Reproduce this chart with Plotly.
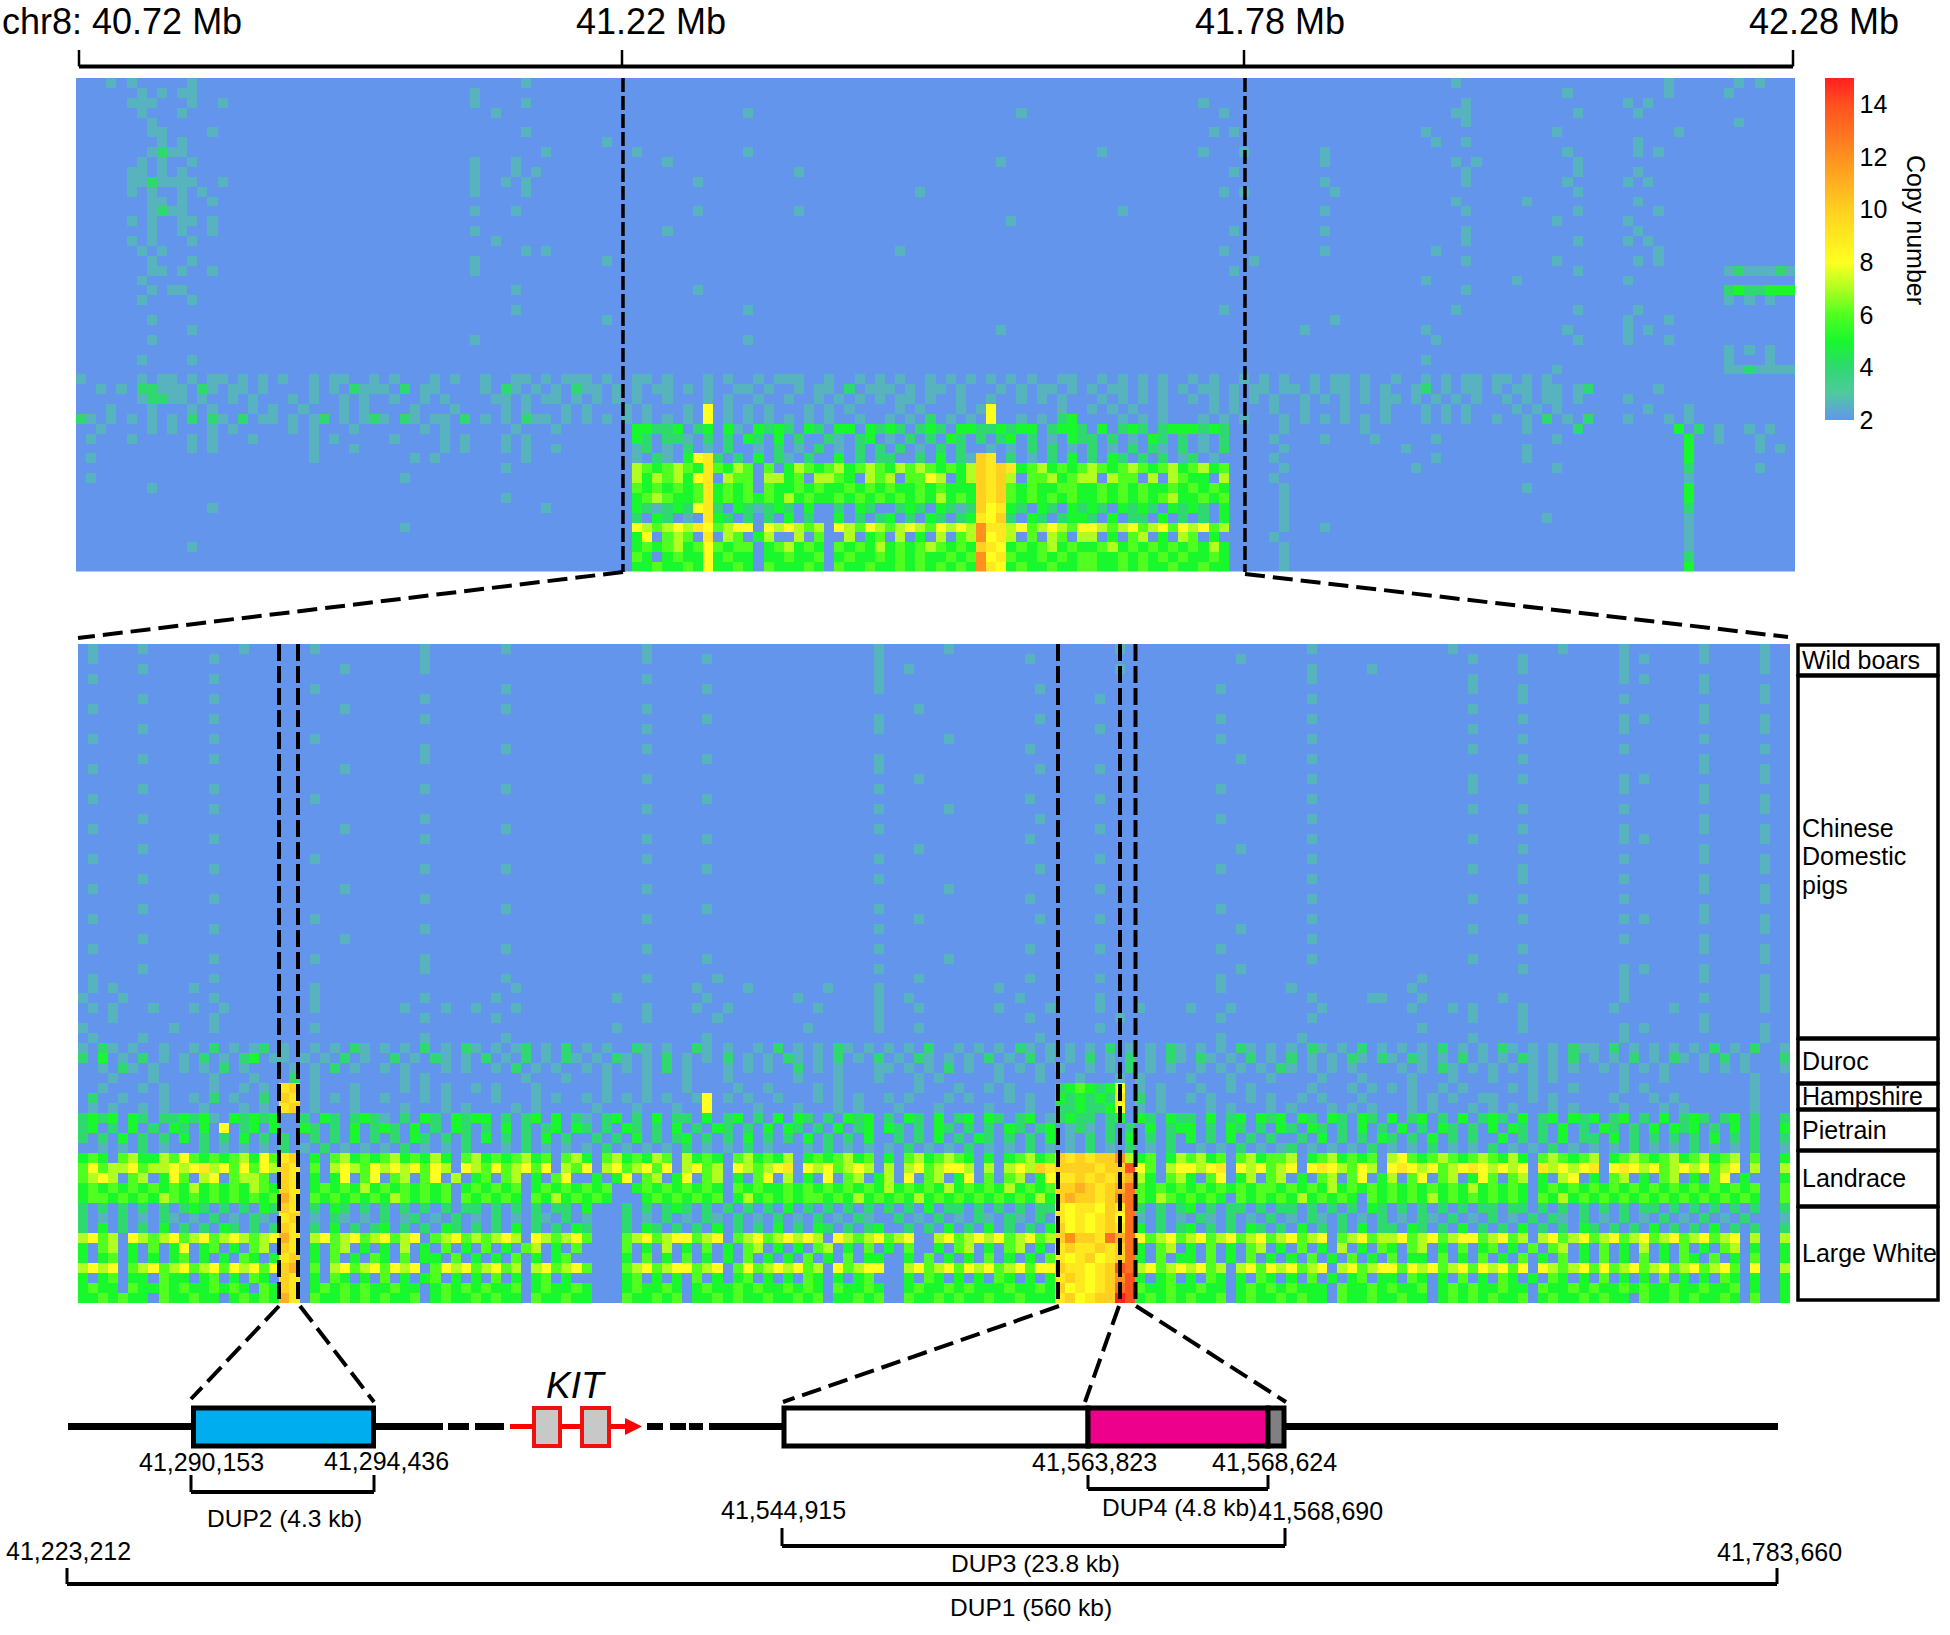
"""
Copy number heatmaps of the KIT region on chr8, with the duplication schematic below.
"""

import plotly.graph_objects as go

W, H = 1950, 1635

# values, one character per cell, space-separated groups of 10 cells
# "." = copy number 2, "3" = faint speckle, "_" = ten cells of 2, a-f = 10-15
TOP_ROWS = [
    "...3.3.... .3........ _ _ ....3..... _ _ _ _ _ _ _ _ ......3... _ .......3.. ....3.3...",
    "......3.3. 33........ _ .........3 _ _ _ _ _ _ _ _ _ _ .......3.. .......3.. ...3......",
    ".....333.. .3..3..... _ .........3 ....3..... _ _ _ _ _ _ .3........ _ .......3.. _ ...3.3....",
    "......3... 3......... _ _ .3........ _ ......3... _ _ ...3...... _ ...3...... _ ......33.. ........3. ....3.....",
    ".......3.. .......... _ _ _ _ _ _ _ _ _ _ _ .......3.. .......... _ ....3.....",
    ".......33. ...3...... _ _ ....3..... _ _ _ _ _ _ ..3.3..... _ ...3...... ......3... ........3. _",
    "........3. 3......... _ _ _ ..3....... _ _ _ _ _ _ _ ....3..3.. _ ....3.....",
    ".......343 3......... _ _ ......3... .....3.... ......3... _ _ _ .3........ .3...3.... ...3...... _ .......3.. ....3.3...",
    "......3.3. .3........ _ .........3 ...3...... ........3. _ _ _ .3........ _ _ ...3...... ......3.3. ........3. _",
    ".....33.3. 3......... _ .........3 ...3.3.... _ _ .3........ _ _ _ ....3..... _ .......3.. ........3. ....3.....",
    ".....33433 33..3..... _ .........3 ..3.3..... _ .3........ _ _ _ _ _ ...3...... .......3.. .......3.. ...3.3....",
    ".....3.3.. 3.3....... _ .........3 ....3..... _ _ _ ...3...... _ _ ...3.3.... ....3..... _ ........3. _",
    ".......33. 3..3...... _ _ _ _ _ _ _ _ _ _ _ ......3... ...3...... ....3.....",
    ".......343 3......... _ .........3 ...3...... _ .3........ .3........ _ _ ...3...... _ ...3...... .......3.. ........3. ......3...",
    ".....3.3.. 33.3...... _ _ _ _ _ _ _ ..3....... _ _ _ _ ......3... ...3......",
    ".......3.. 3..3...... _ .........3 _ ........3. _ _ _ _ _ ....3..... ...3...... .......3.. _ ....3.....",
    ".....3.3.. .3........ _ _ .3........ _ _ _ _ _ _ _ _ .......3.. ........3. ...3.3....",
    "......3.3. _ _ _ ....3.3... _ _ _ .3........ _ _ ...3...... ...3...... ....3..... _ ......3...",
    ".......3.. .3........ _ .........3 _ ..3....... _ _ _ _ _ ......3... _ .......3.. ......3... ....3.3...",
    ".......33. 3..3...... _ .........3 _ _ _ _ _ _ _ ....3..... _ _ ........3. _ ...3433343",
    "......3... .......... _ _ _ _ _ _ _ _ _ _ _ ...3...... ..3....... ...3...... _ ...3...3..",
    ".......3.3 3......... _ _ ...3...... _ .3........ _ _ _ _ _ _ .......3.. _ _ ...4544555",
    "......3... .3........ _ _ _ _ _ _ _ _ _ _ _ _ _ _ ...3.3.3..",
    "_ _ _ _ ...3...... _ ......3... _ _ _ _ ...3...... _ ......3... ........3. ....3.....",
    ".......3.. _ _ _ _ ..3....... _ _ _ _ _ _ ....3..... _ _ ...3...3..",
    "_ .3........ _ _ _ _ _ _ _ .3........ _ _ .3........ ...3...... .......3.. ...3.3....",
    ".......3.. _ _ .........3 _ _ ......3... _ _ _ _ _ _ ....3..... ........3. ...3...3..",
    "_ _ _ _ _ _ _ _ _ _ _ _ _ _ _ _ ...3.3.3..",
    "......3... .3........ _ _ _ _ _ _ _ _ _ _ _ ...3...... _ _ ...3...3..",
    "_ _ _ _ _ _ _ _ _ _ _ _ _ _ ......3... _ ...3343333",
    "3.....3.33 .3.33.3.3. 3..3.33..3 .3...3.3.. 3..33.3.33 3.3..33.3. ..3.3..3.3 33..3..3.3 .3..3.3.3. 3.3.3..33. .3.3.3.3.. 3.3..3.3.3 ..3.33.3.. 3..3.3.33. 33.3.3.... _",
    "..3.3.4433 3.43.33.3. ...3.3.433 3.4.33.... 3.43.3.3.4 33.3.3.33. 3.3..33.3. .3.33.4.33 3.3.33.3.. .3.3.33.3. 3.33.3.3.3 .33.3.33.3 3.3.33.3.3 ..34.3.33. 3.33.33.34 ......3...",
    "......3443 3.3..3.3.. .3.3..3.3. .3..3.3... .33.3.33.3 .3.3.3..3. ..3.3..3.. 3..3.3.3.3 .33.3..3.. 3..3.3.3.. .3.3.3.3.. 3.3.3.3.3. .3.3.3.3.3 3.3.3.3.3. .3.3.33.3. ...3......",
    "...3...3.. .3.3...3.3 ..3...3.3. ...3...3.. ..3.3...3. 3...3.3... 3.8.3.3.3. ..3.3.3... .3.3...3.3 8......3.. 3.3.3..3.. ..3.3...3. .3...3...3 ...3.3.3.. ..3.3.3... .....3...3",
    "43.3.3.3.3 .4.43.4.33 .3.34.3.34 3.43.33.4. 3.3.433.3. 3.3.3.3.3. 3.8.3.3.3. 3.3.3..3.. 3.3.4.3.3. 8..3.3.45. ...3.3.3.. .3.3.3...3 .3.3.3.3.3 ...3.3.3.. 3..3.4.3.4 ...3...3.3",
    "..3....3.3 ...3.3.... .3.3...3.. ....3.3... ...3...3.. .....55445 .45.53.545 4.54.55.54 54.454.554 45455.4554 .5.454.455 5454.....3 .......3.. _ ...3....4. ........5. 4.3..3.3..",
    ".3...3.... .3.3...3.. ...3.3.... .3....3.3. ..3.3..... .....54.44 3.4.4.54.5 .4..43.45. 3.4.4.54.4 .45.4.3.54 4.4.3.54.4 .3.4....3. ...3....3. ....3..... ......3... .........5 ..3...3...",
    "_ .3.3...... ...3...3.. ......3.3. ..3.3..3.. .....34.3. 4.3.4..3.4 .3.4.3.4.4 .4.3.4.4.. 3.3.4.4.3. 4.3.4.43.4 .3.4.....3 _ .3........ ...3...... .........5 ......3.3.",
    ".3........ _ ...3...... ...3.3.... ....3..... .....3.43. 5894.4.5.4 3.4..5.4.4 4..4.5.43a 9.4.3.4.5. 4.54.4.4.3 4.3.....3. _ ....3..... ...3...... .........5 _",
    "_ _ _ _ ..3....... .....76567 6596576.6. 5765675676 576765657a 9a95675656 7656765675 6756.....3 _ ..3....... ......3... .........4 ......3...",
    ".3........ _ _ ..3....... _ .....75767 589.766.77 56.7765.76 7.6687.57a 9a7.667567 7.766.7.76 55.7....3. _ _ _ .........3 _",
    ".......3.. _ _ _ _ .....65656 5695656.65 5656556565 655656555a 9a65655665 5656565565 6565.....3 _ _ ...3...... .........5 _",
    "_ _ _ _ ..3....... .....56765 5695656565 7565565656 565657565a 9a65656565 5656565675 5656.....3 _ _ _ .........5 _",
    "_ ...3...... _ _ ......3... .....54345 4894.54345 4.5..4.54. .454.5434a 8954.54.54 54.5454.54 54.5.....3 _ _ _ .........4 _",
    "_ _ _ _ _ .....4.54. 3.954.4.4. 5.4..5.4.4 5.4.54.459 8a4.54.455 4.5.44.5.4 .4.5.....3 _ _ .....3.... .........3 _",
    "_ _ _ ..3....... _ .....87678 7986788.87 8767.87687 678768787c 9978678768 8767867868 7867.....3 ...3...... _ _ .........3 _",
    "_ _ _ _ _ .....58.67 6.9.76.57. .7.6..7.56 .7.5.7.67c 897.6.76.7 7.5.67.5.7 6.5.....3. _ _ _ .........3 _",
    "_ .3........ _ _ _ .....56567 5686566.56 7565.65657 565676565a 9856567565 5675656565 6575.....3 _ _ _ .........3 _",
    "_ _ _ _ _ .....65.56 5585655.55 6556.56556 565655656c 8965565656 6556565656 5565.....3 _ _ _ .........4 _",
    "_ _ _ _ _ .....55655 6585565.65 5565.65565 565656565c 9856556556 6556565565 5655.....3 _ _ _ .........5 _",
]

LOWER_ROWS = [
    ".3....3... ......3... ...3...... ....3..... ..3....... ......3... _ .........3 ......3... _ ...3...... _ ..3....... ......3... .......3.. ...3...... .3.....3..",
    ".3........ ...3...... _ ....3..... _ ......3... ..3....... .........3 _ ....3..... _ .....3.... _ ........3. ...3...... ...3.3.... .3.....3..",
    "......3... _ ......3... ....3..... _ _ _ .........3 ..3....... _ ...3...... _ ..3.....3. _ ...3...... ...3...... .......3..",
    ".3........ ...3...... _ _ _ ......3... _ .........3 _ _ _ _ ..3....... ........3. _ ...3.3.... .3........",
    "_ _ ...3...... _ ..3....... _ ..3....... .........3 _ .....3.... _ ...3...... _ ........3. ...3...... _ .3.....3..",
    "......3... ...3...... _ ....3..... _ _ _ _ _ _ .3........ _ ..3....... _ ...3...... ...3...... .......3..",
    ".3........ _ ......3... _ ..3....... ......3... _ _ ...3...... _ _ _ _ ........3. _ _ .3........",
    "_ ...3...... _ ....3..... _ _ ..3....... .........3 _ .....3.... _ ...3...... ..3....... _ ...3...... ...3.3.... .3.....3..",
    "......3... _ _ _ _ ......3... _ .........3 _ _ .3........ _ _ ........3. _ ...3...... .......3..",
    ".3........ ...3...... ...3...... _ _ _ _ _ ......3... _ _ ...3...... ..3....... _ ...3...... _ .3........",
    "_ _ _ ....3..... ..3....... ......3... _ _ _ ....3..... _ _ _ ........3. _ ...3...... .......3..",
    "......3... ...3...... _ ....3..... _ _ ..3....... .........3 _ _ _ .....3.... ..3....... _ ...3...... _ .3........",
    ".3........ _ ......3... _ _ _ _ .........3 _ .....3.... .3........ _ _ _ _ _ .3.....3..",
    "_ _ _ _ _ ......3... _ _ ...3...... _ _ _ ..3....... ........3. ...3...... ...3.3.... .......3..",
    "......3... ...3...... _ ....3..... ..3....... _ _ .........3 _ _ _ ...3...... _ ........3. _ ...3...... .3........",
    ".3........ _ ...3...... _ _ _ ..3....... _ _ ....3..... .3........ _ ..3....... _ _ _ .3.....3..",
    "_ ...3...... _ _ _ ......3... _ .........3 ......3... _ _ _ _ ........3. ...3...... ...3...... .......3..",
    "......3... _ _ ....3..... _ _ _ _ _ .....3.... _ ...3...... ..3....... _ _ _ .3........",
    ".3........ _ ......3... _ ..3....... _ _ .........3 _ _ .3........ _ _ _ ...3...... ...3...... .3.....3..",
    "_ ...3...... _ ....3..... _ ......3... ..3....... _ _ ....3..... _ _ ..3....... ........3. _ ...3.3.... .......3..",
    "......3... _ _ _ _ _ _ _ ...3...... _ _ .....3.... _ _ ...3...... _ .3........",
    ".3........ _ ...3...... _ _ ......3... _ .........3 _ _ .3........ _ ..3....... _ _ ...3...... .3.....3..",
    "_ ...3...... _ ....3..... ..3....... _ ..3....... _ _ .....3.... _ ...3...... _ ........3. ...3...... _ .......3..",
    "......3... _ _ _ _ _ _ .........3 _ _ _ _ ..3....... _ ...3...... ...3...... .3........",
    ".3........ _ ......3... _ _ ......3... _ _ ......3... _ .3........ _ _ _ _ _ .3.....3..",
    "_ ...3...... _ ....3..... _ _ _ _ _ ....3..... _ _ ..3....... ........3. ...3...... ...3...... .......3..",
    "......3... _ _ _ ..3....... _ ..3....... .........3 _ _ _ ...3...... _ _ _ _ .3........",
    ".3........ _ ...3...... _ _ ......3... _ _ ...3...... .....3.... .3........ _ ..3....... _ ...3...... ...3.3.... .3.....3..",
    "_ ...3...... _ ....3..... _ _ _ .........3 _ _ _ .....3.... _ ........3. _ _ .......3..",
    "......3... _ ......3... _ _ _ _ _ _ _ _ _ ..3....... _ _ ...3...... .3........",
    ".3........ _ _ _ ..3....... ......3... _ .........3 _ ....3..... .3........ ...3...... _ _ ...3...... _ .3.....3..",
    "_ ...3...... ...3...... ....3..... _ _ ..3....... _ ......3... _ _ _ ..3....... ........3. _ _ .......3..",
    "......3... _ _ ....3..... _ _ _ .........3 _ _ _ .....3.... _ _ ...3...... ...3.3.... .3........",
    ".3........ ...3...... _ _ ..3....... ......3... ...3...... _ ...3...... ....3..... .3........ ...3...... _ ...3...... _ ...3...... .3.....3..",
    ".3.3...... .3........ ...3...... _ ...3...... _ .3....3... ....3....3 _ .3........ _ ...3...... 3......... ..3....... _ ...3...... .......3..",
    "3...3..... ...3...... ...3...... ....3..... .3........ ...3...... ..3....... .3.......3 ..3....... ...3...... .3........ _ ..3.....33 ...3...... .3........ ...3...... .3.....3..",
    ".3.3...3.. .3..3..... ...3...... ..3...3..3 ...3...... ......3... .3..3..... ...3.....3 ...3...... .3....3... .3...3.... 3...3..... ...3...... ..3...3.3. ...3...... ..3.....3. .......3..",
    "...3...... ...3...... _ ....3..... .3........ ......3... ...3...... .........3 _ ....3..... ...3...... ...3...... ..3....... ........3. ...3...... _ .3........",
    "3........3 ...3...... ...3...... _ _ ...3...... _ ..3......3 ...3...... _ .3........ _ _ ...3...... ...3...... ...3.3.... .3.....3..",
    ".3....3... _ _ ....3..... ..3....... _ ..3....... _ _ .....3.... _ ...3...... .3........ ........3. _ ...3...... .......3..",
    "3.43.3..3. .3.4.3.34. 3..3.3.43. 3.3.4.3.43 .3.34.3.4. 3.3..43.3. .43.3..3.4 .3.3.43.3. 3.3.4..3.3 .3.43.3.3. 3.4.3.3.43 .3.3.43.3. 3.43.3.4.3 .3.3.4.3.3 .43.3.3.43 3.4.3.3.3. 3.4.3.4..3",
    "4.5.3.4.3. 3.4.3.45.3 3.3.3.4.3. .4.3.43.3. 4.3.4.3.43 .3.43.3.4. 3.3.4.3.3. 43.3.4.3.4 .3.43.3.3. 4.3.4.3.3. 4.3.4.3.43 .43.3.4.3. 4.3.3.43.4 3.43.3.4.3 .3.43.3.4. 3.3.4.3.43 .3.4.3...4",
    "..3.43.3.. 3.3.4.3... .3.3.4.3.. 3.3...3.3. .3.4.3.3.. 3.3.3.3.4. 3...3.3.3. .4.3.3...3 3.3.3.4.3. .3.3.3.3.. 3.3.4.3.3. .3.3.3.3.4 3.3.3.3... .3.3.43.3. 3.3.3.3.3. .3.3.3.3.. .3.3.3...3",
    "...3...3.. ...3...3.. .4.3...... ..3.3..... ....3...3. ..3...3... 3...3..... .3...3...3 ...3.3.... .3...3...3 ...3.3.... 3...3...3. ...3...3.. ..3...3... 3...3.3... ...3...3.. ......3...",
    "..3...3.3. ...3..3.3. 9a.3...3.. ..3.3.3..3 .3...3.... ..3...3... 3....3..3. ...3.3.... ...3...3.. 3.3....456 5458.3.3.. .3..3.3... ..3...3.3. 3.3..3.3.. ..3.3...3. ...3.3.... ......3...",
    ".4..3...3. .3.4.3..4. a9.3.3.3.. 3...3.3... .3...3.3.. 3.3.3.3.3. .38.3.3..3 ...3.3.3.. 3.3...3.3. ..3.3..545 4549.4.3.. 3.3...3.3. .3.3...3.. ..3.3.3..3 3...3.3... ..3...3.3. ......3...",
    ".3.3..3.3. ..3...3.3. 9a.3...3.. ..3...3.3. ...3.3.... .3...3...3 ..8....3.. .3...3.3.. .3...3.... 3...3..445 4458.3.3.. ..3.3...3. 3...3.3.3. ..3.3...3. 3.3...3.3. ...3...3.3 ......3...",
    "4545.54.44 5453.54545 ..4.54.454 3.4.54.545 5.4.45.5.4 3.45.4.5.4 4.5.45.4.5 .54.4.545. 4.54.5.45. 54.45.3454 4.45.54.54 4.5.45.545 .54.54.54. 5.45.4.5.4 54.5.45.54 5.45.4.5.4 54.45.4..4",
    "45.4.5.4.5 4.5.8.45.5 ..54.4.5.4 54.5.4.54. 4.5.4.45.5 4.4.54.4.5 .4.54.4.5. 54.4.5.45. 54.4.54.4. 4.54.45.34 3.4.4.5.45 5.4.54.4.5 4.54.4.5.4 .5.4.54.4. 5.54.4.5.4 .54.4.5.54 5.4.5.4..5",
    "4.4.5.4.4. 5.4.4.5.4. 4..4.4.5.4 .4.54.4.4. 5.4.4.5.4. .4.4.5.4.4 5.4.4.5.4. 4.5.4.4.5. .4.4.5.4.5 4.4.4.5.3. 4.4.5.4.4. 5.4.5.4.4. .4.5.4.4.5 4.4.5.4.4. .5.4.4.5.4 4.5.4.4.4. 4.5.4.4..4",
    "..3.3.4.3. ..4.3.3.3. 4.3.4.3.3. 3.4.3.3.4. ..3.4.3.3. 3.4.3.3.3. 4.3.3.4.3. ..3.4.3.3. 3.4.3.3.4. 3.3.4.3.3. 4.3.4.3.4. .3.3.4.3.3 4.3.3.3.4. 3.3.4.3.3. 4.3.3.4.3. 3.3.4.3.3. 4.3.3.4..3",
    "565.675576 8656567586 9a.5.67565 6756575.67 5656756.67 5.6756576. 7565.67565 7.5656756. 5.6756765. 5.56756a9a 9aac756.57 6756.67566 7.5675656. 7865676567 6575.67656 7.56765675 67567.6..5",
    "6867786778 7897868687 a9.6.78768 7878687.87 6867868.76 8.7867868. 7867.87678 9.8786787. 7.7867887. 7.787a9aaa a9aae86.78 8789.87867 8.8987687. 8987867898 7878.97878 9.89878678 78678.7..7",
    "6787.67.58 6.78.6776. a9.5.58.68 .67.68.7.5 6.67.5.68. .5.58.67.5 8.67.5.68. 7.5.8.67.5 7.8.67.58. 6.67.5899a 9a9ab75.67 5.68.57.67 .5.67.68.5 7.68.67.58 6.67.5.78. 5.67.5.67. 5.68.5...5",
    "5656565656 5756565765 a9.5656575 6565656.56 5656.56565 656..56565 6565.65655 6565656565 7565657565 6575656aab a9abd65656 5656565665 6565756565 6565656575 6565.56565 6565656565 6565656..6",
    "5665656576 5656565656 b9.6565656 5765656.65 6565.65756 565...5656 5656.57565 6566565756 5657565656 5656575aba a9acd65765 6565.65656 5756565.65 6565756565 6565.65756 5656565656 5656565..6",
    "4.4.4.4.4. 454.4.4.54 a9.4.54.4. 4.4.4.4.44 .4.4.4.44. 5...4.4.45 4.4.4.4.4. 5.4.4.4.4. 4.4.5.44.4 .4.4.44989 98a9d4.4.4 5.4.44.4.4 4.4.4.4.54 .4.4.4.4.4 4.44.4.4.4 .4.4.44.4. 4.4.4.4..4",
    "4.3.4.3.43 .3.4.3.43. 9a.3.43.3. 4.34.3.4.3 .4.3.43.4. 3...4.3.4. 3.43.4.3.4 .3.4.3.43. .4.3.4.3.4 3.43.4.989 89a8d3.4.3 .43.4.3.4. 3.43.4.3.4 .3.43.4.3. 4.3.4.43.4 .3.4.3.4.3 .4.3.4...3",
    "4.5.4.4.5. 4.4.54.4.4 a9.4.5.4.4 5.4.4.54.4 .4.5.4.4.5 4...4.54.4 .4.5.4.4.5 .4.54.4.45 ..4.4.5.4. 5.4.4.5a89 89a9d5.4.4 5.4.4.54.4 .5.4.4.5.4 4.54.4.5.4 .4.5.4.4.5 4.4.4.5.4. 4.5.4.4..4",
    "7867.87678 6786787678 b9.7867867 8678.67867 6787.87678 6...678678 8678.67867 8787.87678 678..78678 7867867aca a9dbd86786 7867867867 8678.67867 7867867886 7867.78678 6786786786 78678.7..7",
    "5.67.5.6.5 8.56.5.67. a9.5.67.5. 5.7.5.6.5. 6.5.67.5.6 ....6.5.7. 5.6.5.67.5 .5.67.5.6. 5.6..5.67. 5.67.5.9a9 9a9ad5.67. 5.6.5.67.5 .6.5.7.5.6 5.67.5.6.5 6.5.6.67.5 .6.5.7.5.6 .5.67.5..5",
    "5.56.5.5.5 6.5.5.65.5 9a.5.6.5.6 5.6.55.6.5 .5.6.5.56. ....5.6.5. 6.5.5.6.5. 5.6.5.6.55 ..5.6.5.5. 6.5.5.6989 a89ad5.6.5 5.6.5.6.5. 5.6.5.6.5. 6.55.6.5.6 .5.6.5.6.5 .6.5.6.5.6 5.6.5.6..5",
    "7878.67867 8678687868 ab.6.78678 6878.68786 7867.78678 6...678678 8678.68678 7867.86788 ..78678687 8678688a99 89aed78678 7867.78687 8678.78678 8687867868 7868.87678 6867867867 86786.8..7",
    "5.56.55.65 5.56.5.65. a9.5.65.5. 6.5.56.5.5 .6.5.56.5. ....56.5.5 .6.5.56.5. 5.65.5.56. ..5.65.5.5 .65.5.59a9 89ace5.56. 5.65.5.65. 5.6.5.56.5 5.65.5.6.5 .65.5.65.5 .6.5.5.6.5 .5.65.5..5",
    "5655.65565 6556565.65 a9.5656565 5655.56565 6556.56556 5...565565 .565565655 6565.65565 ..56556565 5565565a89 89ade65565 5655.56565 6555.65565 6556.56565 5655.65565 6556565565 56556.5..5",
    "5565655.65 5655.56565 b9.6556565 6556.56556 5655.65565 5...655656 .556565565 5656.55656 ..65565655 65565559a8 9aafe56565 6556.56556 5655.65565 5655.56565 6556.56556 5655.65565 65565.6..5",
]

COLORBAR_TICKS = [2, 4, 6, 8, 10, 12, 14]
AXIS_LABELS = ["chr8: 40.72 Mb", "41.22 Mb", "41.78 Mb", "42.28 Mb"]
POPULATIONS = [["Wild boars"], ["Chinese", "Domestic", "pigs"], ["Duroc"], ["Hampshire"], ["Pietrain"], ["Landrace"], ["Large White"]]
POPULATION_EDGES = [644, 675, 1038, 1083, 1109, 1150, 1206, 1300]

COLORSCALE = [
    [0.0, "#6495ED"], [0.077, "#4FC9A0"], [0.154, "#30D870"], [0.231, "#18F82C"],
    [0.308, "#50FF20"], [0.385, "#B0FF20"], [0.462, "#FFFF20"], [0.615, "#FFD020"],
    [0.769, "#FF9020"], [0.923, "#FF5020"], [1.0, "#FF2020"],
]


def parse_rows(rows, n_cols=170):
    z = []
    for row in rows:
        groups = [g.replace("_", "." * 10).ljust(10, ".")[:10] for g in row.split()]
        cells = "".join(groups).ljust(n_cols, ".")[:n_cols]
        z.append([{".": 2, "3": 2.6}.get(c) or int(c, 16) for c in cells])
    return z


def sx(v):
    return v / W


def sy(v):
    return 1 - v / H


def line(x0, y0, x1, y1, width=3, dash="solid", color="black"):
    return dict(type="line", xref="paper", yref="paper", x0=sx(x0), y0=sy(y0), x1=sx(x1), y1=sy(y1),
                line=dict(color=color, width=width, dash=dash))


def box(x0, y0, x1, y1, fill, color="black", width=5):
    return dict(type="rect", xref="paper", yref="paper", x0=sx(x0), y0=sy(y0), x1=sx(x1), y1=sy(y1),
                fillcolor=fill, line=dict(color=color, width=width))


def label(x, y, text, size=25, **kw):
    return dict(xref="paper", yref="paper", x=sx(x), y=sy(y), text=text, showarrow=False,
                xanchor=kw.pop("xanchor", "center"), yanchor="middle", align="left",
                font=dict(family="Liberation Sans", size=size, color="black"), **kw)


fig = go.Figure()
fig.add_trace(go.Heatmap(
    z=parse_rows(TOP_ROWS), xaxis="x", yaxis="y", zmin=2, zmax=15, colorscale=COLORSCALE,
    colorbar=dict(x=sx(1825), xanchor="left", xpad=0, ypad=0, thickness=29, y=sy(78), yanchor="top",
                  len=342 / H, outlinewidth=0, tickvals=COLORBAR_TICKS, ticks="",
                  tickfont=dict(family="Liberation Sans", size=25, color="black")),
))
fig.add_trace(go.Heatmap(
    z=parse_rows(LOWER_ROWS), xaxis="x2", yaxis="y2", zmin=2, zmax=15, colorscale=COLORSCALE, showscale=False,
))

shapes = []
# scale bracket along the top
shapes.append(line(79, 66.5, 1793, 66.5, width=4))
for x in [79, 622, 1244, 1793]:
    shapes.append(line(x, 50, x, 66.5, width=2.5))
# dashed guides on the heatmaps
for x in [623, 1245]:
    shapes.append(line(x, 78, x, 572, width=3.5, dash="14px,4px"))
shapes.append(line(623, 572, 78, 638, width=4, dash="20px,8px"))
shapes.append(line(1245, 574, 1788, 637, width=4, dash="20px,8px"))
for x in [279, 298, 1058, 1120, 1135.5]:
    shapes.append(line(x, 644, x, 1302, width=4, dash="17px,5px"))
# population boxes
for top, bottom in zip(POPULATION_EDGES[:-1], POPULATION_EDGES[1:]):
    shapes.append(box(1798, top + 1, 1938, bottom, "rgba(0,0,0,0)", width=3.5))

# backbone of the schematic
for x0, x1 in [(68, 191), (375, 443), (448, 469), (475, 504), (647, 663), (670, 686), (689, 703),
               (709, 782), (1286, 1778)]:
    shapes.append(line(x0, 1426.5, x1, 1426.5, width=7))
# cone lines down to the schematic
for x0, x1, y1 in [(279, 191, 1399), (300, 374, 1402), (1059, 783, 1402), (1119, 1085, 1402), (1136, 1286, 1402)]:
    shapes.append(line(x0, 1306, x1, y1, width=4, dash="20px,8px"))
# KIT gene
shapes.append(line(510, 1426.5, 627, 1426.5, width=5, color="#FF0000"))
shapes.append(box(534, 1408, 560, 1446, "#C8C8C8", color="#F01010", width=4))
shapes.append(box(582, 1408, 609, 1446, "#C8C8C8", color="#F01010", width=4))
shapes.append(dict(type="path", xref="paper", yref="paper", fillcolor="#FF0000", line=dict(width=0),
                   path=f"M {sx(625)} {sy(1418)} L {sx(642)} {sy(1426.5)} L {sx(625)} {sy(1435)} Z"))
# duplication boxes
shapes.append(box(193.5, 1408, 373.5, 1446, "#00AEEF"))
shapes.append(box(784, 1408, 1088, 1446, "#FFFFFF"))
shapes.append(box(1088, 1408, 1268, 1446, "#EC008C"))
shapes.append(box(1268, 1408, 1284, 1446, "#808080"))
# brackets under the schematic
for x0, x1, y0, y1 in [(191, 374, 1475, 1492), (1088, 1268, 1475, 1489), (782, 1285, 1528, 1546), (67, 1777, 1568, 1584)]:
    shapes.append(line(x0, y1, x1, y1, width=4))
    shapes.append(line(x0, y0, x0, y1, width=3))
    shapes.append(line(x1, y0, x1, y1, width=3))

annotations = [
    label(122, 21, AXIS_LABELS[0], size=36),
    label(651, 21, AXIS_LABELS[1], size=36),
    label(1270, 21, AXIS_LABELS[2], size=36),
    label(1824, 21, AXIS_LABELS[3], size=36),
    label(1916, 230, "Copy number", size=25, textangle=90),
    label(576, 1385, "<i>KIT</i>", size=37),
    label(201.5, 1462, "41,290,153"),
    label(386, 1461, "41,294,436"),
    label(1094, 1462, "41,563,823"),
    label(1274, 1462, "41,568,624"),
    label(783, 1510, "41,544,915"),
    label(1320, 1511, "41,568,690"),
    label(68, 1551, "41,223,212"),
    label(1779, 1552, "41,783,660"),
    label(284, 1518, "DUP2 (4.3 kb)", size=24.5),
    label(1179, 1507, "DUP4 (4.8 kb)", size=24.5),
    label(1035, 1563, "DUP3 (23.8 kb)", size=24.5),
    label(1031, 1607, "DUP1 (560 kb)", size=24.5),
]
for lines, top, bottom in zip(POPULATIONS, POPULATION_EDGES[:-1], POPULATION_EDGES[1:]):
    mid = (top + bottom) / 2 - 28.5 * (len(lines) - 1) / 2
    for i, name in enumerate(lines):
        annotations.append(label(1800, mid + 28.5 * i, name, xanchor="left"))

hidden = dict(visible=False, showgrid=False, zeroline=False)
fig.update_layout(
    width=W, height=H, margin=dict(l=0, r=0, t=0, b=0), paper_bgcolor="white", plot_bgcolor="white",
    xaxis=dict(domain=[sx(76), sx(1795)], **hidden),
    yaxis=dict(domain=[sy(571.5), sy(78)], autorange="reversed", **hidden),
    xaxis2=dict(domain=[sx(78), sx(1790)], anchor="y2", **hidden),
    yaxis2=dict(domain=[sy(1303), sy(644)], anchor="x2", autorange="reversed", **hidden),
    shapes=shapes, annotations=annotations,
)

# the page's default body margin would push the figure 8px in
fig.write_html("out.html", config={"displayModeBar": False}, post_script="document.body.style.margin = '0';")
